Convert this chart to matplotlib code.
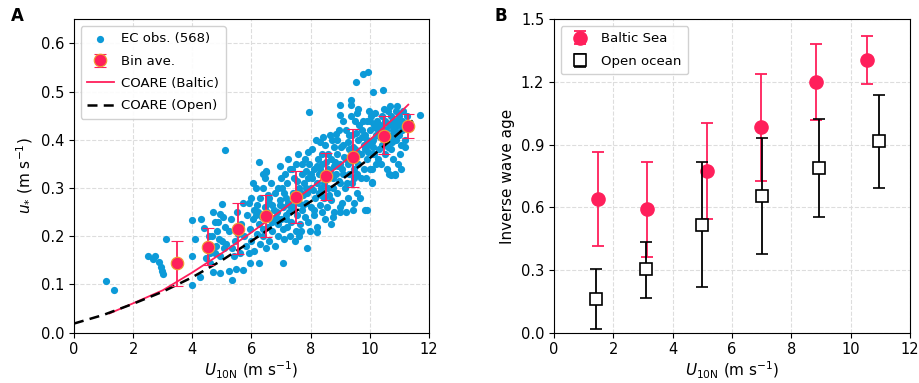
import matplotlib
matplotlib.use("Agg")
import matplotlib.pyplot as plt
import numpy as np

u10_obs = [
    1.08, 1.35, 2.49, 2.74, 2.66, 2.88, 2.93, 2.99, 3.02, 3.11,
    3.99, 4.28, 4.08, 3.99, 3.99, 4.26, 4.39, 4.45, 4.59, 4.71,
    4.88, 4.93, 5.02, 5.11, 4.93, 5.25, 5.34, 5.47, 5.70, 5.95,
    6.26, 7.07, 7.86, 8.20, 7.93, 9.53, 9.77, 9.95, 10.11, 10.45,
    11.71, 9.37, 9.37, 8.99, 9.61, 8.99, 8.87, 9.44, 9.83, 10.73,
    10.84, 10.06, 8.76, 8.99, 6.26, 6.50, 6.40,
    4.65, 4.75, 4.80, 4.85, 4.95, 5.00, 5.05, 5.10, 4.70, 5.08, 4.90, 4.78, 4.55, 4.60,
    5.25, 5.30, 5.45, 5.50, 5.60, 5.65, 5.70, 5.75, 5.80, 5.85, 5.40, 5.55, 5.15, 5.35,
    5.90, 5.95, 6.00, 6.00, 6.05, 6.10, 6.10, 6.15, 6.20, 6.20, 6.25, 6.30, 6.30, 5.92, 6.05, 6.15,
    6.35, 6.40, 6.40, 6.45, 6.50, 6.50, 6.55, 6.55, 6.60, 6.60, 6.65, 6.70, 6.70, 6.75, 6.80, 6.80,
    6.45, 6.60, 6.75, 6.38, 6.68, 6.52,
    6.85, 6.90, 6.90, 6.95, 7.00, 7.00, 7.05, 7.10, 7.10, 7.15, 7.20, 7.20, 7.25, 7.30, 7.30,
    6.88, 7.05, 7.18, 7.28, 6.97, 7.12, 7.22,
    7.35, 7.40, 7.40, 7.45, 7.50, 7.50, 7.55, 7.60, 7.60, 7.65, 7.70, 7.70, 7.75, 7.80, 7.80,
    7.38, 7.48, 7.58, 7.68, 7.78, 7.45, 7.62, 7.72, 7.55,
    7.85, 7.90, 7.90, 7.95, 8.00, 8.00, 8.05, 8.10, 8.10, 8.15, 8.20, 8.20, 8.25, 8.30, 8.30,
    7.88, 7.98, 8.08, 8.18, 8.28, 7.92, 8.12, 8.22, 8.02, 8.27,
    8.35, 8.40, 8.40, 8.45, 8.50, 8.50, 8.55, 8.60, 8.60, 8.65, 8.70, 8.70, 8.75, 8.80, 8.80,
    8.38, 8.48, 8.58, 8.68, 8.78, 8.45, 8.62, 8.72, 8.52, 8.42, 8.75,
    8.85, 8.90, 8.90, 8.95, 9.00, 9.00, 9.05, 9.10, 9.10, 9.15, 9.20, 9.20, 9.25, 9.30, 9.30,
    8.88, 8.98, 9.08, 9.18, 9.28, 8.92, 9.12, 9.22, 9.02, 9.27,
    9.35, 9.40, 9.40, 9.45, 9.50, 9.50, 9.55, 9.60, 9.60, 9.65, 9.70, 9.70, 9.75, 9.80, 9.80,
    9.38, 9.48, 9.58, 9.68, 9.78, 9.42, 9.62, 9.72, 9.52, 9.45, 9.90,
    9.85, 9.90, 9.90, 9.95, 10.00, 10.00, 10.05, 10.10, 10.10, 10.15, 10.20, 10.20, 10.25, 10.30, 10.30,
    9.88, 9.98, 10.08, 10.18, 10.28, 9.92, 10.12, 10.22, 10.02, 10.08,
    10.35, 10.40, 10.40, 10.45, 10.50, 10.50, 10.55, 10.60, 10.60, 10.65, 10.70, 10.70, 10.75, 10.80, 10.80,
    10.38, 10.48, 10.58, 10.68, 10.78, 10.42, 10.62, 10.72, 10.52, 10.65, 10.85,
    10.85, 10.90, 10.90, 10.95, 11.00, 11.00, 11.05, 11.10, 11.10, 11.15, 11.20, 11.25,
    10.88, 11.02, 11.12, 11.20, 10.95, 11.05, 10.92,
    # extra points filling the dense core of the cloud
    6.22, 6.58, 6.83, 7.02, 7.27, 7.43, 7.66, 7.83, 8.06, 8.33, 8.57, 8.83, 9.06, 9.33,
    9.57, 9.83, 10.06, 10.33, 10.57, 10.83, 7.15, 7.75, 8.35, 8.95, 9.55, 10.15, 10.75,
    6.95, 7.85, 8.65, 9.25, 9.95, 10.45, 11.08,
]
ustar_obs = [
    0.108, 0.088, 0.159, 0.160, 0.152, 0.147, 0.137, 0.128, 0.122, 0.195,
    0.234, 0.236, 0.195, 0.160, 0.098, 0.116, 0.217, 0.154, 0.144, 0.126,
    0.230, 0.247, 0.267, 0.379, 0.124, 0.128, 0.110, 0.133, 0.131, 0.144,
    0.145, 0.144, 0.175, 0.208, 0.457, 0.521, 0.536, 0.540, 0.499, 0.503,
    0.451, 0.482, 0.472, 0.472, 0.464, 0.451, 0.413, 0.254, 0.254, 0.327,
    0.327, 0.313, 0.240, 0.251, 0.355, 0.334, 0.330,
    0.200, 0.230, 0.180, 0.210, 0.160, 0.190, 0.240, 0.220, 0.250, 0.175, 0.195, 0.165, 0.200, 0.165,
    0.210, 0.235, 0.190, 0.250, 0.165, 0.225, 0.270, 0.200, 0.180, 0.245, 0.160, 0.205, 0.185, 0.175,
    0.270, 0.215, 0.190, 0.280, 0.235, 0.255, 0.170, 0.300, 0.205, 0.265, 0.225, 0.185, 0.280, 0.165, 0.310, 0.245,
    0.240, 0.200, 0.300, 0.260, 0.175, 0.335, 0.220, 0.285, 0.245, 0.190, 0.310, 0.265, 0.210, 0.235, 0.290, 0.180,
    0.320, 0.270, 0.255, 0.215, 0.230, 0.250,
    0.250, 0.300, 0.200, 0.275, 0.235, 0.320, 0.260, 0.195, 0.290, 0.245, 0.310, 0.220, 0.270, 0.340, 0.200,
    0.225, 0.215, 0.280, 0.250, 0.345, 0.330, 0.360,
    0.230, 0.290, 0.260, 0.320, 0.210, 0.350, 0.245, 0.300, 0.270, 0.225, 0.330, 0.255, 0.285, 0.240, 0.360,
    0.340, 0.190, 0.370, 0.210, 0.310, 0.275, 0.200, 0.350, 0.315,
    0.270, 0.320, 0.230, 0.350, 0.260, 0.300, 0.380, 0.245, 0.340, 0.280, 0.310, 0.220, 0.360, 0.265, 0.395,
    0.290, 0.210, 0.295, 0.400, 0.330, 0.375, 0.255, 0.345, 0.330, 0.290,
    0.300, 0.350, 0.250, 0.280, 0.390, 0.320, 0.260, 0.340, 0.300, 0.410, 0.275, 0.360, 0.320, 0.250, 0.385,
    0.370, 0.235, 0.370, 0.225, 0.345, 0.310, 0.285, 0.400, 0.355, 0.405, 0.300,
    0.330, 0.290, 0.370, 0.420, 0.310, 0.350, 0.270, 0.390, 0.330, 0.300, 0.420, 0.360, 0.280, 0.380, 0.330,
    0.400, 0.260, 0.440, 0.250, 0.410, 0.345, 0.365, 0.310, 0.385, 0.350,
    0.360, 0.310, 0.410, 0.340, 0.440, 0.380, 0.290, 0.400, 0.350, 0.430, 0.320, 0.370, 0.420, 0.390, 0.340,
    0.450, 0.320, 0.455, 0.280, 0.440, 0.385, 0.370, 0.405, 0.415, 0.270, 0.255,
    0.410, 0.360, 0.440, 0.390, 0.420, 0.340, 0.450, 0.370, 0.400, 0.430, 0.350, 0.410, 0.440, 0.380, 0.420,
    0.320, 0.460, 0.310, 0.455, 0.360, 0.400, 0.385, 0.425, 0.440, 0.340,
    0.430, 0.390, 0.450, 0.410, 0.440, 0.370, 0.420, 0.460, 0.400, 0.430, 0.380, 0.450, 0.410, 0.440, 0.360,
    0.350, 0.465, 0.340, 0.470, 0.420, 0.425, 0.385, 0.435, 0.395, 0.330, 0.330,
    0.420, 0.440, 0.400, 0.430, 0.410, 0.450, 0.390, 0.440, 0.420, 0.430, 0.400, 0.450,
    0.460, 0.370, 0.460, 0.385, 0.350, 0.340, 0.470,
    0.250, 0.280, 0.240, 0.300, 0.265, 0.280, 0.290, 0.300, 0.320, 0.340, 0.330, 0.355, 0.340, 0.360,
    0.375, 0.380, 0.395, 0.405, 0.410, 0.430, 0.235, 0.265, 0.285, 0.315, 0.330, 0.370, 0.395,
    0.265, 0.335, 0.335, 0.395, 0.375, 0.420, 0.430,
]

# bin averages with error bar limits
bin_u10 = [3.47, 4.53, 5.56, 6.49, 7.52, 8.51, 9.44, 10.47, 11.28]
bin_ustar = [0.144, 0.178, 0.216, 0.242, 0.281, 0.325, 0.364, 0.408, 0.429]
bin_low = [0.097, 0.140, 0.164, 0.199, 0.228, 0.276, 0.303, 0.370, 0.404]
bin_high = [0.191, 0.217, 0.268, 0.285, 0.336, 0.373, 0.423, 0.449, 0.453]

# COARE curves
coare_baltic_u = [1.2, 2, 3, 4, 5, 6, 7, 8, 9, 10, 11, 11.3]
coare_baltic_ustar = [0.040, 0.061, 0.088, 0.125, 0.165, 0.208, 0.253, 0.300, 0.348, 0.400, 0.455, 0.473]
coare_open_u = [0, 1, 2, 3, 4, 5, 6, 7, 8, 9, 10, 11, 11.45]
coare_open_ustar = [0.019, 0.037, 0.060, 0.085, 0.115, 0.150, 0.190, 0.232, 0.272, 0.315, 0.362, 0.415, 0.440]

# ---- Panel B: inverse wave age ----
baltic_u = [1.49, 3.12, 5.15, 6.97, 8.82, 10.54]
baltic_iwa = [0.640, 0.590, 0.775, 0.983, 1.200, 1.304]
baltic_low = [0.415, 0.364, 0.544, 0.728, 1.018, 1.190]
baltic_high = [0.866, 0.815, 1.005, 1.240, 1.382, 1.419]

open_u = [1.40, 3.09, 5.00, 7.02, 8.94, 10.94]
open_iwa = [0.160, 0.303, 0.515, 0.654, 0.787, 0.916]
open_low = [0.016, 0.168, 0.217, 0.377, 0.554, 0.693]
open_high = [0.303, 0.434, 0.817, 0.932, 1.021, 1.139]

red = '#ff1f5b'
blue = '#0c9ad8'

fig = plt.figure(figsize=(9.19, 3.83), dpi=100)
axA = fig.add_axes([0.0805, 0.1313, 0.3863, 0.8183])
axB = fig.add_axes([0.6028, 0.1313, 0.3874, 0.8183])

# Panel A
h_obs = axA.scatter(u10_obs, ustar_obs, s=27, color=blue, lw=0, label='EC obs. (568)', zorder=2)
yerr = [np.array(bin_ustar) - np.array(bin_low), np.array(bin_high) - np.array(bin_ustar)]
h_bin = axA.errorbar(bin_u10, bin_ustar, yerr=yerr, fmt='o', color=red, ms=9, mec='#f0a030',
                     mew=0.8, capsize=4, elinewidth=1.3, capthick=1.3, label='Bin ave.', zorder=4)
h_bal, = axA.plot(coare_baltic_u, coare_baltic_ustar, color=red, lw=1.3,
                  label='COARE (Baltic)', zorder=3)
h_open, = axA.plot(coare_open_u, coare_open_ustar, color='black', ls='--', lw=1.8,
                   dashes=(4, 2.5), label='COARE (Open)', zorder=3)
axA.set_xlim(0, 12)
axA.set_ylim(0, 0.65)
axA.set_xticks(range(0, 13, 2))
axA.set_yticks(np.arange(0, 0.61, 0.1))
axA.set_xlabel(r'$U_{\mathrm{10N}}$ (m s$^{-1}$)', fontsize=11, labelpad=2)
axA.set_ylabel(r'$u_{*}$ (m s$^{-1}$)', fontsize=11)
axA.grid(True, ls='--', color='#dddddd', lw=0.8)
axA.set_axisbelow(True)
axA.legend(handles=[h_obs, h_bin, h_bal, h_open], loc='upper left', fontsize=9.5,
           framealpha=0.9, handletextpad=0.6, borderpad=0.5, labelspacing=0.7)

# Panel B
yerr_b = [np.array(baltic_iwa) - np.array(baltic_low), np.array(baltic_high) - np.array(baltic_iwa)]
axB.errorbar(baltic_u, baltic_iwa, yerr=yerr_b, fmt='o', color=red, ms=9.5,
             capsize=4, elinewidth=1.3, capthick=1.3, label='Baltic Sea', zorder=3)
yerr_o = [np.array(open_iwa) - np.array(open_low), np.array(open_high) - np.array(open_iwa)]
axB.errorbar(open_u, open_iwa, yerr=yerr_o, fmt='s', color='black', mfc='white', ms=9,
             mew=1.2, capsize=4, elinewidth=1.3, capthick=1.3, label='Open ocean', zorder=4)
axB.set_xlim(0, 12)
axB.set_ylim(0, 1.5)
axB.set_xticks(range(0, 13, 2))
axB.set_yticks(np.arange(0, 1.51, 0.3))
axB.set_xlabel(r'$U_{\mathrm{10N}}$ (m s$^{-1}$)', fontsize=11, labelpad=2)
axB.set_ylabel('Inverse wave age', fontsize=11)
axB.grid(True, ls='--', color='#dddddd', lw=0.8)
axB.set_axisbelow(True)
axB.legend(loc='upper left', fontsize=9.5, framealpha=0.9, handletextpad=0.6,
           borderpad=0.5, labelspacing=0.7)

for ax in (axA, axB):
    ax.tick_params(labelsize=10.5)

fig.text(0.012, 0.945, 'A', fontsize=12, fontweight='bold')
fig.text(0.538, 0.945, 'B', fontsize=12, fontweight='bold')

fig.savefig('out.png', dpi=100)
